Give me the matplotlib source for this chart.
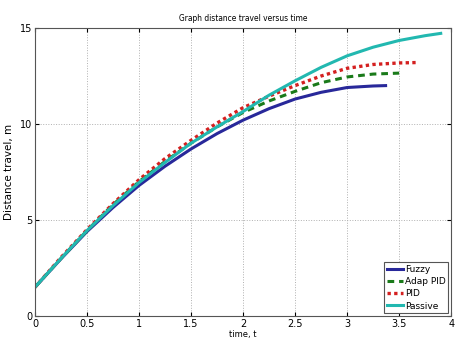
import matplotlib
matplotlib.use("Agg")
import matplotlib.pyplot as plt

# time samples and distances
t_passive = [0, .25, .5, .75, 1, 1.25, 1.5, 1.75, 2, 2.25, 2.5, 2.75, 3, 3.25, 3.5, 3.75, 3.9]
d_passive = [1.5, 3.0, 4.45, 5.75, 6.95, 8.0, 9.0, 9.85, 10.65, 11.5, 12.25, 12.95, 13.55, 14.0, 14.35, 14.6, 14.72]

t_pid = [0, .25, .5, .75, 1, 1.25, 1.5, 1.75, 2, 2.25, 2.5, 2.75, 3, 3.25, 3.5, 3.66]
d_pid = [1.5, 3.05, 4.5, 5.85, 7.1, 8.2, 9.15, 10.05, 10.85, 11.45, 12.0, 12.5, 12.9, 13.1, 13.18, 13.2]

t_adap = [0, .25, .5, .75, 1, 1.25, 1.5, 1.75, 2, 2.25, 2.5, 2.75, 3, 3.25, 3.5]
d_adap = [1.5, 3.0, 4.45, 5.8, 7.0, 8.05, 9.0, 9.85, 10.6, 11.2, 11.7, 12.15, 12.45, 12.6, 12.65]

t_fuzzy = [0, .25, .5, .75, 1, 1.25, 1.5, 1.75, 2, 2.25, 2.5, 2.75, 3, 3.25, 3.37]
d_fuzzy = [1.5, 2.98, 4.4, 5.65, 6.8, 7.8, 8.7, 9.5, 10.2, 10.8, 11.3, 11.65, 11.9, 11.98, 12.0]

fig = plt.figure(figsize=(4.58, 3.44), dpi=100)
ax = fig.add_axes([0.0764, 0.0814, 0.9086, 0.8372])

ax.plot(t_fuzzy, d_fuzzy, color='#28289a', lw=2.2, label='Fuzzy')
ax.plot(t_adap, d_adap, color='#1a7a1a', lw=2.2, ls=(0, (2.2, 1.6)), label='Adap PID')
ax.plot(t_pid, d_pid, color='#d42020', lw=2.4, ls=(0, (1, 1)), label='PID')
ax.plot(t_passive, d_passive, color='#22b8b0', lw=2.2, label='Passive')

ax.set_xlim(0, 4)
ax.set_ylim(0, 15)
ax.set_xticks([0, 0.5, 1, 1.5, 2, 2.5, 3, 3.5, 4])
ax.set_xticklabels(['0', '0.5', '1', '1.5', '2', '2.5', '3', '3.5', '4'])
ax.set_yticks([0, 5, 10, 15])
ax.tick_params(direction='in', top=True, right=True, labelsize=7, length=3, pad=2)
ax.grid(True, ls=':', color='#b0b0b0', lw=0.7)
for s in ax.spines.values():
    s.set_color('#555555')
    s.set_linewidth(0.8)

ax.set_title('Graph distance travel versus time', fontsize=6, pad=5, fontstretch='condensed')
ax.set_xlabel('time, t', fontsize=6, labelpad=1)
ax.set_ylabel('Distance travel, m', fontsize=7.5, labelpad=4)

leg = ax.legend(loc='lower right', fontsize=6.5, fancybox=False, framealpha=1,
                edgecolor='#555555', handlelength=1.8, handletextpad=0.2,
                borderpad=0.3, labelspacing=0.35, borderaxespad=0.3)
leg.get_frame().set_linewidth(0.8)

fig.savefig('out.png', dpi=100)
